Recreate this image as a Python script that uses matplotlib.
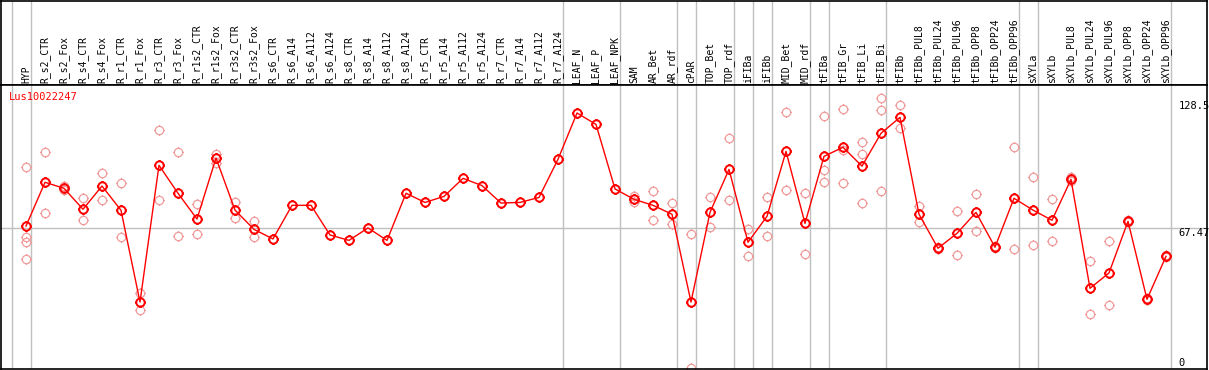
import numpy as np
import matplotlib
matplotlib.use("Agg")
import matplotlib.pyplot as plt
from matplotlib.path import Path


GENE = "Lus10022247"

SAMPLES = [
    "HYP", "R_s2_CTR", "R_s2_Fox", "R_s4_CTR", "R_s4_Fox", "R_r1_CTR", "R_r1_Fox",
    "R_r3_CTR", "R_r3_Fox", "R_r1s2_CTR", "R_r1s2_Fox", "R_r3s2_CTR", "R_r3s2_Fox",
    "R_s6_CTR", "R_s6_A14", "R_s6_A112", "R_s6_A124", "R_s8_CTR", "R_s8_A14",
    "R_s8_A112", "R_s8_A124", "R_r5_CTR", "R_r5_A14", "R_r5_A112", "R_r5_A124",
    "R_r7_CTR", "R_r7_A14", "R_r7_A112", "R_r7_A124", "LEAF_N", "LEAF_P", "LEAF_NPK",
    "SAM", "AR_Bet", "AR_rdf", "cPAR", "TOP_Bet", "TOP_rdf", "iFIBa", "iFIBb",
    "MID_Bet", "MID_rdf", "tFIBa", "tFIB_Gr", "tFIB_Li", "tFIB_Bi", "tFIBb",
    "tFIBb_PUL8", "tFIBb_PUL24", "tFIBb_PUL96", "tFIBb_OPP8", "tFIBb_OPP24",
    "tFIBb_OPP96", "sXYLa", "sXYLb", "sXYLb_PUL8", "sXYLb_PUL24", "sXYLb_PUL96",
    "sXYLb_OPP8", "sXYLb_OPP24", "sXYLb_OPP96",
]

MEANS = [
    68.4, 89.5, 86.6, 76.5, 87.7, 76.0, 31.8, 97.7, 84.2, 71.8,
    101.2, 76.1, 66.8, 62.2, 78.4, 78.4, 64.1, 61.5, 67.5, 61.5,
    84.2, 79.8, 82.7, 91.4, 87.9, 79.5, 79.8, 82.2, 100.6, 122.9,
    117.4, 86.3, 81.3, 78.4, 74.1, 31.8, 75.0, 95.7, 60.6, 73.1,
    104.4, 69.7, 102.0, 106.4, 97.3, 113.1, 120.8, 74.1, 57.7, 64.9,
    75.0, 58.2, 81.8, 76.1, 71.2, 90.9, 38.4, 45.8, 70.7, 33.1, 53.8,
]

# replicates per sample (empty = single measurement)
REPLICATES = [
    [96.7, 63.0, 60.6, 52.4], [103.9, 74.6], [87.5, 85.7], [81.8, 71.3],
    [93.8, 80.8], [89.2, 63.0], [36.1, 27.8], [114.5, 80.8], [103.9, 63.8],
    [79.0, 64.4], [103.1, 98.6], [80.0, 72.1], [70.8, 63.0],
    [], [], [], [], [], [], [], [], [], [], [], [], [], [], [], [], [], [], [],
    [82.9, 80.0], [85.3, 71.3], [79.4, 69.2], [64.6, 0.0], [82.2, 67.8],
    [110.7, 80.8], [66.8, 53.8], [82.2, 63.5], [123.2, 85.6], [84.2, 54.8],
    [121.3, 95.2, 89.5], [124.7, 104.9, 89.0], [108.8, 103.0, 79.4],
    [130.1, 124.2, 85.2], [126.6, 115.5], [77.9, 70.2], [58.2, 57.2],
    [75.5, 54.3], [83.7, 65.9], [58.7, 57.7], [106.4, 57.2], [91.9, 59.1],
    [81.3, 61.1], [91.9, 90.0], [51.4, 25.9], [61.1, 30.2], [71.2, 70.2],
    [33.6, 32.6], [54.3, 53.3],
]

# last sample index of each group (separator lines)
GROUP_ENDS = [-1, 0, 28, 31, 34, 35, 37, 38, 39, 41, 42, 45, 52, 53, 60]

Y_TICKS = [0, 67.47, 128.5]
Y_TICK_LABELS = ["0", "67.47", "128.5"]
MID_LINE = 67.47

RED = "#ff0000"
PINK = "#f09a9a"
GRID = "#c0c0c0"
FONT = "DejaVu Sans Mono"


def sun_marker():
    # open circle with four small ticks
    circle = Path.unit_circle()
    ticks = []
    for dx, dy in [(0, 1), (0, -1), (1, 0), (-1, 0)]:
        ticks.append(Path([(dx, dy), (dx * 1.25, dy * 1.25)], [Path.MOVETO, Path.LINETO]))
    return Path.make_compound_path(circle, *ticks)


W, H = 1209, 370
fig = plt.figure(figsize=(W / 100, H / 100), dpi=100)

x = np.arange(len(SAMPLES))
x_lo = (1 - 26) / 19
x_hi = (1207 - 26) / 19

# header with sample names
hdr = fig.add_axes([1 / W, 1 - 85 / H, 1206 / W, 84 / H])
hdr.set_xlim(x_lo, x_hi)
hdr.set_ylim(85, 0)
hdr.set_xticks([])
hdr.set_yticks([])
for s in hdr.spines.values():
    s.set_color("black")
    s.set_linewidth(1.2)
for g in GROUP_ENDS:
    hdr.axvline(g + 0.25, color=GRID, linewidth=1)
for i, name in enumerate(SAMPLES):
    hdr.text(i, 83, name, rotation=90, ha="center", va="bottom",
             fontsize=7, family=FONT, color="black")

# main plot
ax = fig.add_axes([1 / W, 1 / H, 1206 / W, 284 / H])
ax.set_xlim(x_lo, x_hi)
ax.set_ylim(-0.5, 136.4)
ax.set_xticks([])
ax.set_yticks([])
for s in ax.spines.values():
    s.set_color("black")
    s.set_linewidth(1.2)

for g in GROUP_ENDS:
    ax.axvline(g + 0.25, color=GRID, linewidth=1, zorder=1)
ax.axhline(MID_LINE, color=GRID, linewidth=1, zorder=1)

marker = sun_marker()
rep_x = [i for i, reps in enumerate(REPLICATES) for _ in reps]
rep_y = [v for reps in REPLICATES for v in reps]
ax.plot(rep_x, rep_y, linestyle="none", marker=marker, markersize=7.5,
        markerfacecolor="none", markeredgecolor=PINK, markeredgewidth=0.9,
        clip_on=False, zorder=2)

ax.plot(x, MEANS, color=RED, linewidth=1.0, marker=marker, markersize=7.5,
        markerfacecolor="none", markeredgecolor=RED, markeredgewidth=1.4,
        zorder=3)

ax.text(-0.9, 130.5, GENE, color=RED, fontsize=7.5, family=FONT,
        ha="left", va="center")

for v, lab in zip(Y_TICKS, Y_TICK_LABELS):
    ax.text(60.65, v, lab, fontsize=7.5, family=FONT, ha="left",
            va="bottom" if v == 0 else "top", color="black")

fig.savefig("out.png", dpi=100)
